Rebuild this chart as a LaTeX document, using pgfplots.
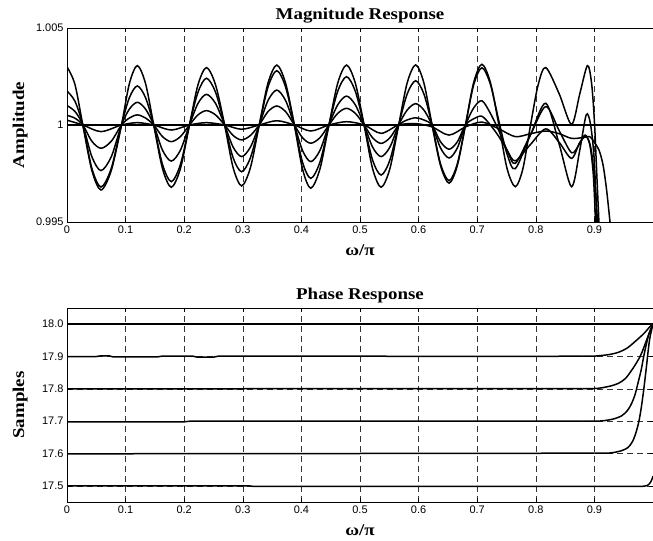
\documentclass[border=0pt]{standalone}
\usepackage{fontspec}
\setmainfont{Liberation Serif}
\setsansfont{Liberation Sans}
\newfontfamily\labfont[FakeStretch=1.15]{Liberation Serif}
\usepackage{pgfplots}
\pgfplotsset{compat=1.18}

% MATLAB-like look shared by both panels
\pgfplotsset{
  mlaxis/.style={
    scale only axis, width=586bp, height=194bp,
    xmin=0, xmax=1,
    xtick={0,0.1,0.2,0.3,0.4,0.5,0.6,0.7,0.8,0.9},
    tick align=inside, major tick length=4bp,
    axis line style={line width=0.8bp},
    every tick/.style={black, line width=0.6bp},
    xmajorgrids,
    major grid style={black!80, line width=0.6bp, dash pattern=on 6bp off 4bp},
    tick label style={font=\fontsize{11}{12}\selectfont\sffamily},
    /pgf/number format/assume math mode=true,
    label style={font=\fontsize{16.5}{18}\selectfont\labfont\bfseries},
    title style={font=\fontsize{16.5}{18}\selectfont\labfont\bfseries,
      at={(axis description cs:0.5,1)}, anchor=base, yshift=3bp},
    xlabel style={at={(axis description cs:0.5,0)}, anchor=center, yshift=-28bp},
    ylabel style={at={(axis description cs:-0.08,0.5)}, anchor=center},
    xlabel={ω/π},
    every axis plot/.append style={black, line width=1.5bp},
  }
}

\begin{document}
\begin{tikzpicture}
\begin{axis}[mlaxis, at={(67bp,319bp)}, anchor=south west,
  ymin=0.995, ymax=1.005,
  ytick={0.995,1,1.005}, yticklabels={0.995,1,1.005},
  title={Magnitude Response}, ylabel={Amplitude}]

\addplot[sharp plot] coordinates {(0,1) (1,1)};

\addplot[smooth] coordinates {
(0,1.00300) (0.0135,1.00210) (0.027,1) (0.0425,0.99765) (0.058,0.99665) (0.0755,0.99765)
(0.093,1) (0.1065,1.00214) (0.120,1.00306) (0.134,1.00214) (0.148,1) (0.163,0.99775)
(0.178,0.99679) (0.1935,0.99775) (0.209,1) (0.2235,1.00207) (0.238,1.00296) (0.2535,1.00207)
(0.269,1) (0.2835,0.99780) (0.298,0.99686) (0.313,0.99780) (0.328,1) (0.343,1.00216)
(0.358,1.00309) (0.373,1.00216) (0.388,1) (0.402,0.99772) (0.416,0.99674) (0.4315,0.99772)
(0.447,1) (0.462,1.00216) (0.477,1.00309) (0.492,1.00216) (0.507,1) (0.5215,0.99775)
(0.536,0.99679) (0.551,0.99775) (0.566,1) (0.5805,1.00217) (0.595,1.00310) (0.609,1.00217)
(0.623,1) (0.6375,0.99790) (0.652,0.99700) (0.666,0.99790) (0.680,1) (0.694,1.00219)
(0.708,1.00313) (0.7225,1.00219) (0.737,1) (0.751,0.99775) (0.765,0.99682) (0.778,0.99775)
(0.791,1) (0.804,1.00207) (0.817,1.00296) (0.840,1.0016) (0.861,1.00003) (0.875,1.0016)
(0.888,1.00306) (0.895,1.0022) (0.900,1.0002) (0.904,0.9975) (0.908,0.9948) (0.912,0.9920)};

\addplot[smooth] coordinates {
(0,1.00175) (0.0135,1.00123) (0.027,1) (0.0425,0.99776) (0.058,0.99680) (0.0755,0.99776)
(0.093,1) (0.1065,1.00141) (0.120,1.00201) (0.134,1.00141) (0.148,1) (0.163,0.99796)
(0.178,0.99708) (0.1935,0.99796) (0.209,1) (0.2235,1.00169) (0.238,1.00241) (0.2535,1.00169)
(0.269,1) (0.2835,0.99831) (0.298,0.99759) (0.313,0.99831) (0.328,1) (0.343,1.00196)
(0.358,1.00280) (0.373,1.00196) (0.388,1) (0.402,0.99807) (0.416,0.99725) (0.4315,0.99807)
(0.447,1) (0.462,1.00174) (0.477,1.00249) (0.492,1.00174) (0.507,1) (0.5215,0.99819)
(0.536,0.99742) (0.551,0.99819) (0.566,1) (0.5805,1.00160) (0.595,1.00228) (0.609,1.00160)
(0.623,1) (0.6375,0.99799) (0.652,0.99713) (0.666,0.99799) (0.680,1) (0.694,1.00207)
(0.708,1.00295) (0.7225,1.00210) (0.737,1.0002) (0.751,0.99850) (0.765,0.99775)
(0.791,0.9995) (0.817,1.00112) (0.840,0.9990) (0.861,0.99682) (0.875,0.9987)
(0.886,1.00052) (0.893,1.0001) (0.899,0.9985) (0.903,0.9960) (0.906,0.9935)};

\addplot[smooth] coordinates {
(0,1.00100) (0.0135,1.00070) (0.027,1) (0.0425,0.99836) (0.058,0.99765) (0.0755,0.99836)
(0.093,1) (0.1065,1.00082) (0.120,1.00117) (0.134,1.00082) (0.148,1) (0.163,0.99870)
(0.178,0.99814) (0.1935,0.99870) (0.209,1) (0.2235,1.00111) (0.238,1.00158) (0.2535,1.00111)
(0.269,1) (0.2835,0.99886) (0.298,0.99837) (0.313,0.99886) (0.328,1) (0.343,1.00126)
(0.358,1.00180) (0.373,1.00126) (0.388,1) (0.402,0.99868) (0.416,0.99811) (0.4315,0.99868)
(0.447,1) (0.462,1.00104) (0.477,1.00149) (0.492,1.00104) (0.507,1) (0.5215,0.99886)
(0.536,0.99837) (0.551,0.99886) (0.566,1) (0.5805,1.00077) (0.595,1.00110) (0.609,1.00077)
(0.623,1) (0.6375,0.99881) (0.652,0.99830) (0.666,0.99881) (0.680,1) (0.694,1.00088)
(0.708,1.00125) (0.7225,1.00060) (0.737,0.9997) (0.751,0.99870) (0.765,0.99802)
(0.791,0.9995) (0.817,1.00095) (0.840,0.9997) (0.861,0.99857) (0.874,0.9990)
(0.884,0.99948) (0.892,0.9990) (0.898,0.9975) (0.902,0.9950) (0.905,0.9930)};

\addplot[smooth] coordinates {
(0,1.00050) (0.0135,1.00035) (0.027,1) (0.0425,0.99916) (0.058,0.99880) (0.0755,0.99916)
(0.093,1) (0.1065,1.00036) (0.120,1.00052) (0.134,1.00036) (0.148,1) (0.163,0.99940)
(0.178,0.99914) (0.1935,0.99940) (0.209,1) (0.2235,1.00052) (0.238,1.00074) (0.2535,1.00052)
(0.269,1) (0.2835,0.99946) (0.298,0.99923) (0.313,0.99946) (0.328,1) (0.343,1.00069)
(0.358,1.00098) (0.373,1.00069) (0.388,1) (0.402,0.99934) (0.416,0.99906) (0.4315,0.99934)
(0.447,1) (0.462,1.00060) (0.477,1.00086) (0.492,1.00060) (0.507,1) (0.5215,0.99934)
(0.536,0.99905) (0.551,0.99934) (0.566,1) (0.5805,1.00026) (0.595,1.00037) (0.609,1.00026)
(0.623,1) (0.6375,0.99913) (0.652,0.99875) (0.666,0.99913) (0.680,1) (0.694,1.00032)
(0.708,1.00045) (0.7225,1.0000) (0.737,0.9994) (0.751,0.99870) (0.765,0.99815)
(0.791,0.9990) (0.817,0.99980) (0.840,0.9991) (0.861,0.99828) (0.875,0.9991)
(0.886,0.99940) (0.894,0.9988) (0.901,0.9970) (0.906,0.9945) (0.909,0.9920)};

\addplot[smooth] coordinates {
(0,1.00025) (0.027,1) (0.058,0.99966) (0.093,1) (0.120,1.00012) (0.148,1)
(0.178,0.99974) (0.209,1) (0.238,1.00012) (0.269,1) (0.298,0.99978) (0.328,1)
(0.358,1.00022) (0.388,1) (0.416,0.99969) (0.447,1) (0.477,1.00017) (0.507,1)
(0.536,0.99957) (0.566,1) (0.595,1.00007) (0.623,0.9999) (0.652,0.99948) (0.680,0.9999)
(0.708,1.00015) (0.737,0.9998) (0.765,0.99940) (0.791,0.99955) (0.817,0.99969)
(0.840,0.99955) (0.861,0.99931) (0.880,0.99935) (0.892,0.9994) (0.900,0.9991)
(0.908,0.9987) (0.915,0.9979) (0.921,0.9966) (0.927,0.9949) (0.932,0.9935)};
\end{axis}

\begin{axis}[mlaxis, at={(67bp,39bp)}, anchor=south west,
  ymin=17.45, ymax=18.05, ymajorgrids,
  ytick={17.5,17.6,17.7,17.8,17.9,18.0},
  yticklabel style={/pgf/number format/.cd, fixed, fixed zerofill, precision=1},
  title={Phase Response}, ylabel={Samples}]

\addplot[sharp plot] coordinates {(0,18) (1,18)};

\addplot[sharp plot] coordinates {
(0,17.9) (0.05,17.9) (0.058,17.902) (0.072,17.902) (0.078,17.899) (0.155,17.899)
(0.162,17.901) (0.215,17.901) (0.222,17.898) (0.25,17.898) (0.258,17.901) (0.5,17.901)
(0.7,17.9) (0.88,17.901)};
\addplot[smooth] coordinates {
(0.88,17.901) (0.895,17.901) (0.906,17.902) (0.925,17.906) (0.941,17.913)
(0.955,17.925) (0.968,17.944) (0.985,17.972) (0.994,17.991) (1,18.0)};

\addplot[sharp plot] coordinates {
(0,17.8) (0.3,17.8) (0.31,17.801) (0.88,17.801)};
\addplot[smooth] coordinates {
(0.88,17.801) (0.9,17.801) (0.912,17.803) (0.928,17.809) (0.941,17.817)
(0.953,17.832) (0.963,17.856) (0.972,17.881) (0.980,17.908) (0.991,17.96) (1,18.0)};

\addplot[sharp plot] coordinates {
(0,17.698) (0.2,17.698) (0.21,17.7) (0.5,17.7) (0.88,17.7)};
\addplot[smooth] coordinates {
(0.88,17.7) (0.905,17.7) (0.918,17.702) (0.933,17.707) (0.946,17.716)
(0.956,17.732) (0.963,17.753) (0.969,17.780) (0.974,17.815) (0.980,17.860)
(0.985,17.908) (0.993,17.97) (1,18.0)};

\addplot[sharp plot] coordinates {
(0,17.599) (0.5,17.6) (0.9,17.601)};
\addplot[smooth] coordinates {
(0.9,17.601) (0.918,17.601) (0.929,17.602) (0.945,17.608) (0.957,17.618)
(0.965,17.637) (0.971,17.665) (0.976,17.700) (0.980,17.742) (0.984,17.795)
(0.988,17.856) (0.994,17.95) (1,18.0)};

\addplot[sharp plot] coordinates {
(0,17.5) (0.31,17.5) (0.32,17.498) (0.975,17.498)};
\addplot[smooth] coordinates {
(0.975,17.498) (0.985,17.499) (0.992,17.503) (0.997,17.515) (1,17.53)};
\end{axis}

\pgfresetboundingbox
\path (0,0) rectangle (653bp,541bp);
\end{tikzpicture}
\end{document}
